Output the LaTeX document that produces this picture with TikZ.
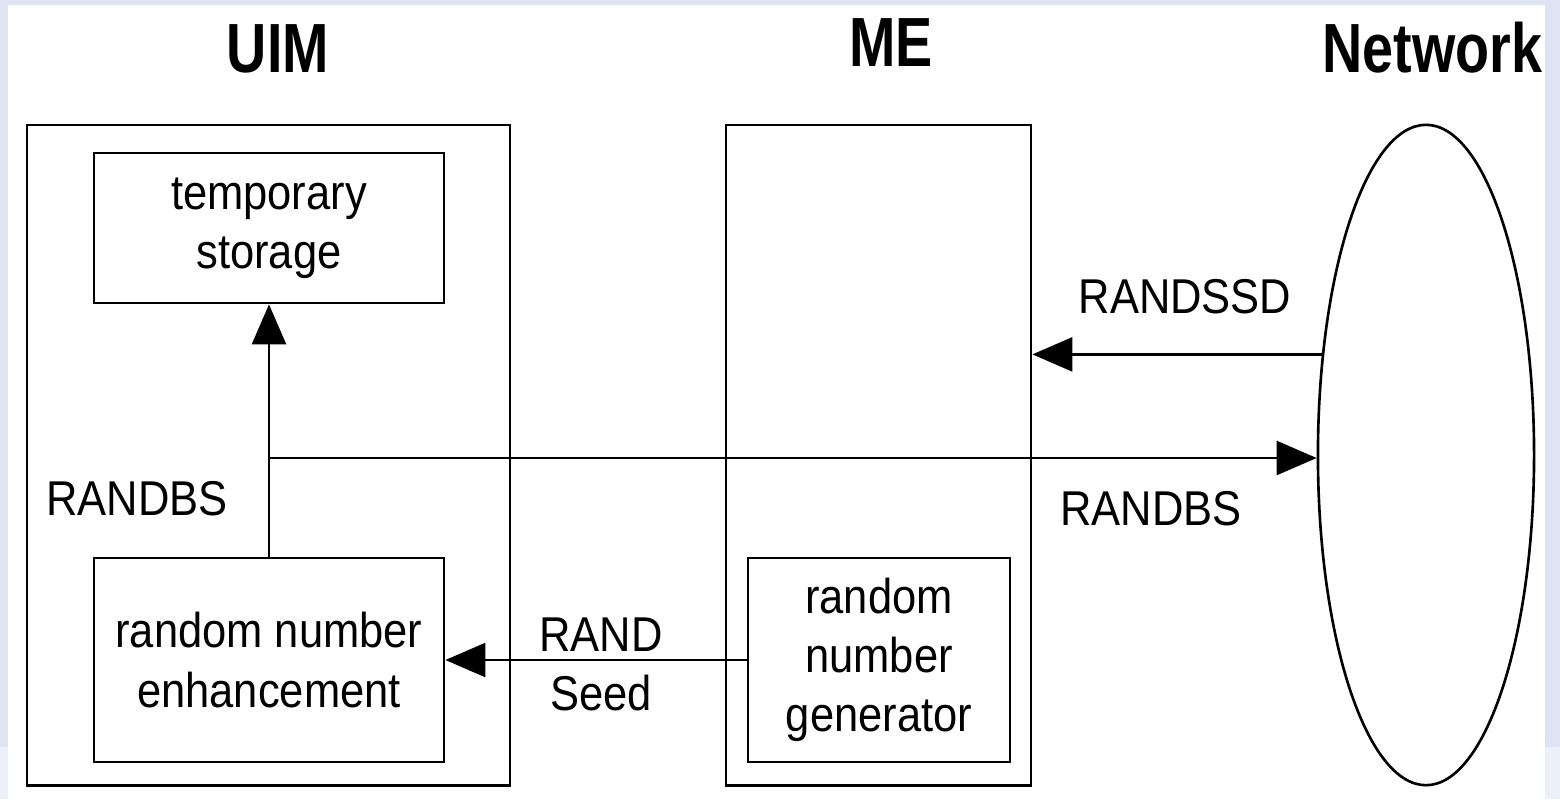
\documentclass[tikz,border=0pt]{standalone}
\usepackage{fontspec}
\setmainfont{Liberation Sans}
\newfontfamily\lblfont[FakeStretch=0.89]{Liberation Sans}
\newfontfamily\ttlfont[FakeStretch=0.8]{Liberation Sans}
\usepackage{tikz}
\usetikzlibrary{arrows.meta,shapes.geometric}
\definecolor{frameblue}{RGB}{223,228,243}
\definecolor{framelight}{RGB}{236,240,249}

\begin{document}
\begin{tikzpicture}[
  x=0.01cm, y=-0.01cm,
  module/.style={draw, line width=0.75pt, inner sep=0pt, align=center, font=\lblfont\fontsize{13.9}{16.8}\selectfont},
  heading/.style={anchor=base, inner sep=0pt, font=\ttlfont\bfseries\fontsize{19.8}{22}\selectfont},
  tag/.style={inner sep=0pt, align=center, font=\lblfont\fontsize{13.9}{16.8}\selectfont},
  flow/.style={-{Triangle[length=4mm,width=3.4mm]}, line width=0.75pt}
]

% Frame and page
\useasboundingbox (0,0) rectangle (1560,799);
\fill[frameblue] (0,0) rectangle (1560,747);
\fill[framelight] (0,747) rectangle (1560,799);
\fill[white] (8,5) rectangle (1545,799);

% Headings
\node[heading] (uimtitle) at (278,72) {UIM};
\node[heading] (metitle) at (891,66) {ME};
\node[heading, anchor=base west] (nettitle) at (1322,72) {Network};

% Entities
\node[module, minimum width=4.83cm, minimum height=6.6cm] (uim) at (268.5,455) {};
\node[module, minimum width=3.05cm, minimum height=6.6cm] (me) at (878.5,455) {};
\node[module, ellipse, minimum width=2.16cm, minimum height=6.6cm] (net) at (1426,455) {};

% Inner modules
\node[module, minimum width=3.5cm, minimum height=1.5cm] (temp) at (269,228) {temporary\\storage};
\node[module, minimum width=3.5cm, minimum height=2.04cm] (rne) at (269,660) {random number\\enhancement};
\node[module, minimum width=2.62cm, minimum height=2.04cm] (rng) at (879,660) {random\\number\\generator};

% Connect modules
\coordinate (fork) at (269,458);
\draw[flow] (rne.north) -- (temp.south);
\draw[flow] (fork) -- (fork -| net.west);
\draw[flow] (net.136) -- (net.136 -| me.east);
\draw[flow] (rng.west) -- (rne.east);

% Message labels
\node[tag, anchor=base] (ssd) at (1185,313) {RANDSSD};
\node[tag, anchor=base] (bsnet) at (1151,525) {RANDBS};
\node[tag, anchor=base] (bsuim) at (137,515) {RANDBS};
\node[tag] (seed) at (601,664) {RAND\\Seed};

% Right edge of the frame
\fill[frameblue] (1545,0) rectangle (1560,747);
\fill[framelight] (1545,747) rectangle (1560,799);

\end{tikzpicture}
\end{document}
